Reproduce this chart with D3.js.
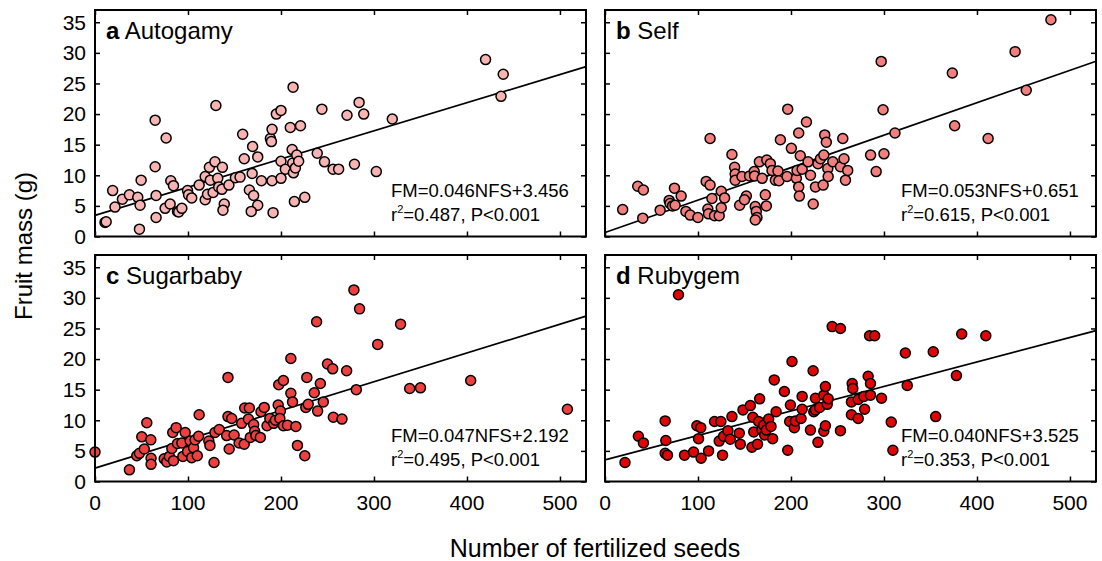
<!DOCTYPE html>
<html><head><meta charset="utf-8">
<script src="https://cdn.jsdelivr.net/npm/d3@7"></script>
<style>body{margin:0;background:#fff;} svg{display:block;font-family:Arial,"Liberation Sans",sans-serif;}</style>
</head><body>
<svg id="c" width="1102" height="561"></svg>
<script>
// ---- data ----
const panelLetters = ["a","b","c","d"];
const panelNames = ["Autogamy","Self","Sugarbaby","Rubygem"];
const slopes = [0.046, 0.053, 0.047, 0.040];
const intercepts = [3.456, 0.651, 2.192, 3.525];
const r2Labels = ["0.487","0.615","0.495","0.353"];
const pLabel = "P<0.001";
const xTicks = [0,100,200,300,400,500];
const yTicks = [0,5,10,15,20,25,30,35];
const pointColors = ["#f8b4b2","#f27f7d","#ef4040","#e00606"];

const autogamyNFS = [10.8,12,19,21.5,29.5,37,46,47.8,48.5,49.6,64.7,64.7,65.7,65.7,76.5,75.4,80.8,81.5,84.4,88.7,90,93.4,99.5,100.6,104,112,118.5,118.5,121,123,124,127,129,130,132,133,136.5,137,139,137.6,144,151,156,158.8,160.5,166,169,169.5,170.6,175,175,168,179,188.6,189.7,190.4,190.4,191.5,195,200,200,200,204.7,210,212,212.6,213.4,214.4,213,215.5,217,219,221,225.6,239,244,246.8,256,262,271,279,284,289,302.5,319.7,420,436.6,439];
const autogamyFM = [2.3,2.4,7.5,4.8,6.1,6.8,6.4,1.2,5.1,9.2,19.0,11.4,6.7,3.1,16.1,4.6,5.3,9.1,8.3,4.1,4.0,4.6,7.5,6.8,6.3,8.4,9.8,6.0,6.9,11.3,9.2,7.2,12.2,21.4,9.5,8.1,7.7,11.3,5.3,4.3,8.4,9.6,9.7,16.7,12.7,7.6,10.3,14.7,6.7,13.0,5.1,4.1,9.1,16.0,15.5,17.5,9.1,3.9,20.0,20.6,12.3,9.5,11.0,17.8,14.2,12.0,10.4,5.7,24.4,11.2,13.3,12.3,18.1,6.4,13.6,20.8,12.2,11.0,11.0,19.8,11.8,21.9,20.0,10.6,19.2,28.9,22.9,26.5];

const selfNFS = [19,35.2,41.3,40.6,59.3,69,70,72.6,75.4,74.7,81.9,87,91.6,99.9,108.8,113,113,115,110.6,111.3,117.8,122.8,125,125,128.6,136.5,139.4,140,140,147.3,144.8,152,150,155.5,160.5,160.9,161.6,162.7,163.4,161.6,166,169,172.4,173.5,174,177.8,179.6,183.2,186,187,188.6,195.8,196.5,200.4,205.8,206.5,208.3,209,208.3,210,212,216.6,218.4,221,223.9,226.3,229,231.7,234.6,236.3,238,235.3,239.6,240,245,253.2,255.7,257,258.6,261,285.6,291.6,297,299,300,311.8,373.5,376,412,441,453,479.5];
const selfFM = [4.4,8.2,7.6,3.0,4.3,5.9,5.4,5.0,5.1,7.9,6.6,4.1,3.5,3.1,9.0,16.0,8.4,6.2,4.5,3.7,3.4,3.4,4.7,7.4,6.3,13.4,11.3,10.2,9.2,9.8,5.1,6.6,6.0,9.9,10.6,9.9,4.9,4.1,3.1,2.7,12.2,9.5,6.8,5.0,12.5,11.9,10.8,9.2,10.7,9.1,15.8,9.8,20.8,14.4,9.5,10.8,8.1,6.6,16.9,13.2,11.0,18.7,12.2,10.0,5.3,8.1,11.9,12.7,8.4,16.6,15.4,13.3,11.1,9.8,12.2,11.4,16.0,12.7,9.2,10.8,13.3,10.6,28.6,20.7,13.5,16.9,26.7,18.1,16.0,30.2,23.9,35.4];

const sugarbabyNFS = [0,37,44.9,47.8,50.3,53,55.7,60,60.3,60.3,74.4,77.2,80,82.6,83.6,87.3,88.7,84.4,93.4,94.5,97,99.5,102.4,104,106,107.7,110,111.4,112,122.4,123.6,128,129,133.6,141.6,143,143,144.3,147,149.6,155,157.7,160.5,161,165,166,167,170.6,171.7,173,177.8,178.5,182,185,188,192.2,194,197,197.6,199.4,198.8,202.6,202.6,207,210.6,210.6,212.4,216,217.7,225.6,226.7,227.8,229.3,235.8,238.3,239.4,242.3,245.5,250,255.6,256.3,265.6,270.6,278.4,281,284.5,304,328.6,338.4,350,404,508];
const sugarbabyFM = [4.8,1.9,4.2,4.6,7.3,5.3,9.6,6.8,3.8,2.8,3.7,3.2,4.1,5.4,8.0,8.8,6.2,3.4,6.3,4.1,8.0,4.9,6.6,3.9,5.5,6.8,4.2,7.4,10.9,6.6,5.9,3.1,8.0,8.5,7.5,17.0,10.6,5.3,10.3,7.6,6.3,9.5,6.1,12.0,10.2,12.0,7.2,9.3,8.2,7.5,7.2,11.4,12.1,9.1,10.3,9.5,10.0,12.5,15.8,11.5,10.3,16.5,9.1,9.2,20.1,14.4,13.0,9.0,5.9,4.2,12.1,17.0,12.6,14.5,26.1,11.5,16.0,13.0,19.2,18.4,10.5,10.2,18.1,31.3,15.0,28.2,22.4,25.7,15.2,15.3,16.5,11.8];

const rubygemNFS = [21.5,35.9,41.3,64.7,65.4,64.7,67.2,79,85.5,95.2,98.8,103,100.6,103.4,111.4,117.8,124.6,122.8,126.4,127.5,132.2,134.7,136.5,144.4,145.5,148.4,156.3,158,159,160,164,166.3,165.2,168.8,170.6,171.7,173.5,176,178.5,180.3,182,184,192.9,196.5,198.6,199.4,201.1,203.6,204.7,210.8,212,212,220.9,223.8,224.5,226.3,226.3,229,230.8,235.3,237,235.3,237,239,240,244.3,253.2,253.2,265.8,266.5,265,265,272.3,272.3,278.4,279.2,283,285.5,285.5,284.5,290,297.4,307.8,309.6,323,325,353,355.6,377.9,383.6,409.5];
const rubygemFM = [3.1,7.4,6.3,9.9,6.7,4.6,4.3,30.5,4.3,4.8,9.1,8.8,7.0,3.8,5.0,9.8,9.8,6.6,4.3,7.4,8.3,6.9,10.6,7.9,6.1,11.7,12.4,5.6,10.5,8.1,6.1,13.5,9.8,8.4,9.2,7.6,8.4,10.2,9.0,7.0,16.6,11.4,14.7,5.1,9.8,12.5,19.6,8.8,9.9,10.3,13.9,11.8,8.4,18.1,11.4,11.7,13.6,6.4,12.1,8.2,9.1,14.1,15.5,12.6,13.5,25.3,25.0,8.3,16.0,15.2,13.0,10.9,10.3,13.4,13.9,11.8,17.2,16.0,14.1,23.8,23.8,13.6,9.7,5.1,21.0,15.7,21.2,10.6,17.3,24.1,23.8];

const seriesX = [autogamyNFS, selfNFS, sugarbabyNFS, rubygemNFS];
const seriesY = [autogamyFM, selfFM, sugarbabyFM, rubygemFM];

// ---- layout ----
const svg = d3.select("#c");
const panelLeft = [95, 605, 95, 605];
const panelTop = [10, 10, 255, 255];
const PW = 491, PH = 226.5;
const xDomain = [0, 528], yDomain = [0, 37];
const font = 'Arial, "Liberation Sans", sans-serif';

panelLetters.forEach((L, i) => {
  const x0 = panelLeft[i], y0 = panelTop[i];
  const x = d3.scaleLinear().domain(xDomain).range([x0, x0 + PW]);
  const y = d3.scaleLinear().domain(yDomain).range([y0 + PH, y0]);
  const g = svg.append("g");

  // inward ticks on all four sides
  const tl = 5;
  const axB = d3.axisBottom(x).tickValues(xTicks).tickSize(-tl).tickFormat("");
  const axT = d3.axisTop(x).tickValues(xTicks).tickSize(-tl).tickFormat("");
  const axL = d3.axisLeft(y).tickValues(yTicks).tickSize(-tl).tickFormat("");
  const axR = d3.axisRight(y).tickValues(yTicks).tickSize(-tl).tickFormat("");
  [[axB, `translate(0,${y0+PH})`],[axT, `translate(0,${y0})`],[axL, `translate(${x0},0)`],[axR, `translate(${x0+PW},0)`]].forEach(([ax, tr]) => {
    const a = g.append("g").attr("transform", tr).call(ax);
    a.select(".domain").remove();
    a.selectAll("line").attr("stroke", "#000").attr("stroke-width", 1.5);
  });

  // tick labels
  if (i === 0 || i === 2) {
    g.selectAll(null).data(yTicks).enter().append("text")
      .attr("x", x0 - 9).attr("y", d => y(d)).attr("dy", "0.35em")
      .attr("text-anchor", "end").attr("font-size", 21).attr("font-family", font)
      .text(d => d);
  }
  if (i >= 2) {
    g.selectAll(null).data(xTicks).enter().append("text")
      .attr("x", d => x(d)).attr("y", y0 + PH + 28)
      .attr("text-anchor", "middle").attr("font-size", 21).attr("font-family", font)
      .text(d => d);
  }

  // regression line
  g.append("line")
    .attr("x1", x(xDomain[0])).attr("y1", y(slopes[i]*xDomain[0] + intercepts[i]))
    .attr("x2", x(xDomain[1])).attr("y2", y(slopes[i]*xDomain[1] + intercepts[i]))
    .attr("stroke", "#000").attr("stroke-width", 1.7);

  // points
  const pts = seriesX[i].map((v, k) => [v, seriesY[i][k]]);
  g.selectAll(null).data(pts).enter().append("circle")
    .attr("cx", d => x(d[0])).attr("cy", d => y(d[1])).attr("r", 5)
    .attr("fill", pointColors[i]).attr("stroke", "#000").attr("stroke-width", 1.5);

  // frame
  g.append("rect").attr("x", x0).attr("y", y0).attr("width", PW).attr("height", PH)
    .attr("fill", "none").attr("stroke", "#000").attr("stroke-width", 2);

  // panel title
  const t = g.append("text").attr("x", x0 + 11).attr("y", y0 + 29)
    .attr("font-size", 24).attr("font-family", font);
  t.append("tspan").attr("font-weight", "bold").text(L);
  t.append("tspan").text(" " + panelNames[i]);

  // equation
  const sign = intercepts[i] >= 0 ? "+" : "-";
  g.append("text").attr("x", x0 + 296).attr("y", y0 + 187)
    .attr("font-size", 18.5).attr("font-family", font)
    .text(`FM=${slopes[i].toFixed(3)}NFS${sign}${Math.abs(intercepts[i]).toFixed(3)}`);
  const r = g.append("text").attr("x", x0 + 296).attr("y", y0 + 211)
    .attr("font-size", 18.5).attr("font-family", font);
  r.append("tspan").text("r");
  r.append("tspan").attr("font-size", 11).attr("dy", -8).text("2");
  r.append("tspan").attr("dy", 8).text(`=${r2Labels[i]}, ${pLabel}`);
});

// axis titles
svg.append("text").attr("transform", "translate(32,246) rotate(-90)")
  .attr("text-anchor", "middle").attr("font-size", 24).attr("font-family", font)
  .text("Fruit mass (g)");
svg.append("text").attr("x", 595).attr("y", 557)
  .attr("text-anchor", "middle").attr("font-size", 25).attr("font-family", font)
  .text("Number of fertilized seeds");
</script>
</body></html>
